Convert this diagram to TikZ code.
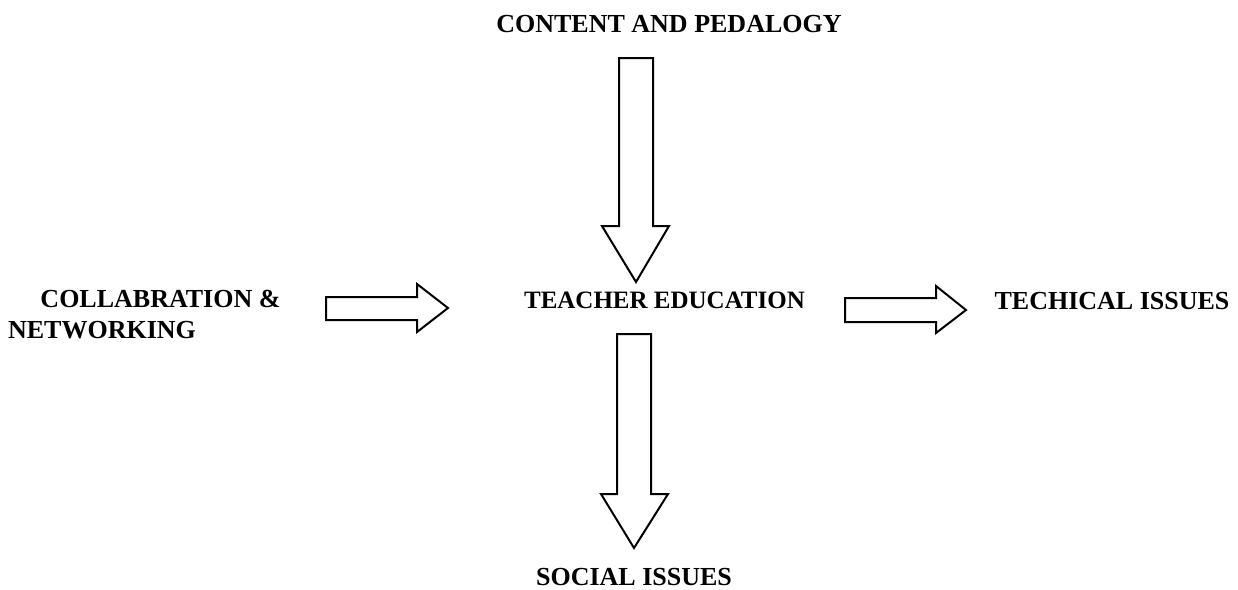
\documentclass[tikz,border=0pt]{standalone}
\usepackage{fontspec}
\setmainfont{Liberation Serif}
\begin{document}
\begin{tikzpicture}[x=1pt,y=-1pt,
  lbl/.style={font=\fontsize{26}{30}\selectfont\bfseries, inner sep=0pt, anchor=base},
  blockarrow/.style={draw=black, line width=2pt, fill=white, line join=miter}]
\useasboundingbox (0,0) rectangle (1238,589);
% labels
\node[lbl] (content) at (669,32) {CONTENT AND PEDALOGY};
\node[lbl, font=\fontsize{25}{30}\selectfont\bfseries] (teacher) at (664.5,308) {TEACHER EDUCATION};
\node[lbl] (tech) at (1112,309) {TECHICAL ISSUES};
\node[lbl] (collab1) at (160.5,307) {COLLABRATION \&};
\node[lbl] (collab2) at (102,338) {NETWORKING};
\node[lbl] (social) at (634,585) {SOCIAL ISSUES};
% top arrow (down)
\draw[blockarrow] (619,58) -- (653,58) -- (653,226) -- (669,226) -- (636,282) -- (602,226) -- (619,226) -- cycle;
% left arrow (right)
\draw[blockarrow] (326,297) -- (417,297) -- (417,284) -- (448,308) -- (417,332) -- (417,320) -- (326,320) -- cycle;
% right arrow (right)
\draw[blockarrow] (845,298) -- (936,298) -- (936,286) -- (966,310) -- (936,333) -- (936,322) -- (845,322) -- cycle;
% bottom arrow (down)
\draw[blockarrow] (617,334) -- (651,334) -- (651,494) -- (668,494) -- (634,548) -- (601,494) -- (617,494) -- cycle;
\end{tikzpicture}
\end{document}
